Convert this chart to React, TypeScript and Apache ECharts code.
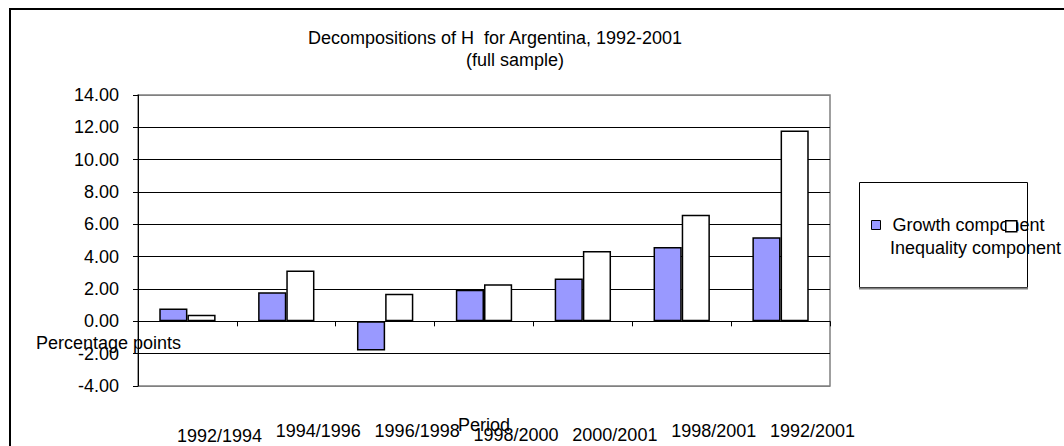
import React, { useEffect, useRef } from "react";
import * as echarts from "echarts";

const titleLine1 = "Decompositions of H  for Argentina, 1992-2001";
const titleLine2 = "(full sample)";
const categories = ["1992/1994", "1994/1996", "1996/1998", "1998/2000", "2000/2001", "1998/2001", "1992/2001"];
const growth = [0.8, 1.8, -1.8, 1.95, 2.65, 4.6, 5.2];
const inequality = [0.4, 3.15, 1.7, 2.3, 4.35, 6.6, 11.8];
const seriesNames = ["Growth component", "Inequality component"];
const yTicks = { min: -4, max: 14, interval: 2 };
const labelRows = ["lo", "hi", "hi", "mid", "mid", "hi", "hi"];

const FONT = "Arial, 'Liberation Sans', sans-serif";

export default function App() {
  const ref = useRef<HTMLDivElement>(null);
  useEffect(() => {
    if (!ref.current) return;
    const chart = echarts.init(ref.current, undefined, { renderer: "svg" });
    const nLines = (yTicks.max - yTicks.min) / yTicks.interval + 1;
    const splitColors = Array.from({ length: nLines }, (_, i) =>
      i === 0 || i === nLines - 1 ? "#808080" : "#000000"
    );
    chart.setOption({
      animation: false,
      backgroundColor: "#ffffff",
      textStyle: { fontFamily: FONT },
      title: [
        {
          text: titleLine1,
          left: 495,
          top: 29,
          textAlign: "center",
          textStyle: { fontSize: 18, fontWeight: "normal", color: "#000", fontFamily: FONT },
          padding: 0,
        },
        {
          text: titleLine2,
          left: 515,
          top: 51,
          textAlign: "center",
          textStyle: { fontSize: 18, fontWeight: "normal", color: "#000", fontFamily: FONT },
          padding: 0,
        },
      ],
      grid: {
        left: 138,
        right: 1064 - 830,
        top: 95,
        bottom: 446 - 386,
        containLabel: false,
        outerBoundsMode: "none",
        show: true,
        borderColor: "#808080",
        borderWidth: 1.5,
        backgroundColor: "#ffffff",
      },
      legend: [
        {
          data: [
            {
              name: seriesNames[0],
              itemStyle: { color: "#9999FF", borderColor: "#000", borderWidth: 1 },
            },
          ],
          left: 871,
          top: 216,
          padding: 0,
          icon: "rect",
          itemWidth: 9,
          itemHeight: 9,
          selectedMode: false,
          textStyle: { fontSize: 18, color: "#000", fontFamily: FONT, padding: [0, 0, 0, 7] },
        },
        {
          data: [
            {
              name: seriesNames[1],
              itemStyle: { color: "#ffffff", borderColor: "#000", borderWidth: 1.5 },
            },
          ],
          left: 1005,
          top: 220,
          padding: 0,
          icon: "rect",
          itemWidth: 11,
          itemHeight: 11,
          selectedMode: false,
          formatter: () => "",
          textStyle: { fontSize: 18, color: "#000", fontFamily: FONT },
        },
      ],
      xAxis: {
        type: "category",
        data: categories,
        name: "Period",
        nameLocation: "middle",
        nameGap: 30,
        nameMoveOverlap: false,
        nameTextStyle: { fontSize: 18, color: "#000", fontFamily: FONT },
        axisLine: { show: true, onZero: true, lineStyle: { color: "#000", width: 1 } },
        axisTick: { show: true, length: 5, inside: false, lineStyle: { color: "#000" } },
        axisLabel: {
          interval: 0,
          margin: 36,
          fontSize: 18,
          color: "#000",
          fontFamily: FONT,
          padding: [0, 0, 0, 64],
          formatter: (v: string, i: number) => `{${labelRows[i]}|${v}}`,
          rich: {
            hi: { fontSize: 18, fontFamily: FONT, color: "#000" },
            mid: { fontSize: 18, fontFamily: FONT, color: "#000", padding: [4, 0, 0, 0] },
            lo: { fontSize: 18, fontFamily: FONT, color: "#000", padding: [5, 0, 0, 0] },
          },
        },
        splitLine: { show: false },
      },
      yAxis: {
        type: "value",
        min: yTicks.min,
        max: yTicks.max,
        interval: yTicks.interval,
        axisLine: { show: true, lineStyle: { color: "#000", width: 1 } },
        axisTick: { show: true, length: 5, inside: false, lineStyle: { color: "#000" } },
        axisLabel: {
          margin: 19,
          fontSize: 18,
          color: "#000",
          fontFamily: FONT,
          formatter: (v: number) => v.toFixed(2),
        },
        splitLine: { show: true, lineStyle: { color: splitColors, width: 1 } },
      },
      series: [
        {
          name: seriesNames[0],
          type: "bar",
          data: growth,
          barGap: "0%",
          barCategoryGap: "43%",
          itemStyle: { color: "#9999FF", borderColor: "#000", borderWidth: 1.5 },
        },
        {
          name: seriesNames[1],
          type: "bar",
          data: inequality,
          barGap: "0%",
          barCategoryGap: "43%",
          itemStyle: { color: "#ffffff", borderColor: "#000", borderWidth: 1.5 },
        },
      ],
      graphic: [
        {
          type: "rect",
          shape: { x: 10, y: 9, width: 1200, height: 600 },
          style: { fill: "none", stroke: "#000", lineWidth: 2 },
          z: 10,
          silent: true,
        },
        {
          type: "rect",
          shape: { x: 859.5, y: 182.5, width: 168, height: 105 },
          style: { fill: "#ffffff", stroke: "#000", lineWidth: 1 },
          z: -1,
          silent: true,
        },
        {
          type: "line",
          shape: { x1: 859, y1: 288.5, x2: 1028, y2: 288.5 },
          style: { stroke: "#808080", lineWidth: 2 },
          z: -1,
          silent: true,
        },
        {
          type: "text",
          x: 890,
          y: 248,
          style: {
            text: seriesNames[1],
            fontSize: 18,
            fontFamily: FONT,
            fill: "#000",
            verticalAlign: "middle",
          },
          z: 10,
        },
        {
          type: "text",
          x: 36,
          y: 343,
          style: {
            text: "Percentage points",
            fontSize: 18,
            fontFamily: FONT,
            fill: "#000",
            verticalAlign: "middle",
          },
          z: 10,
        },
      ],
    });
    return () => chart.dispose();
  }, []);
  return (
    <div
      ref={ref}
      style={{ position: "absolute", left: 0, top: 0, width: 1064, height: 446 }}
    />
  );
}
